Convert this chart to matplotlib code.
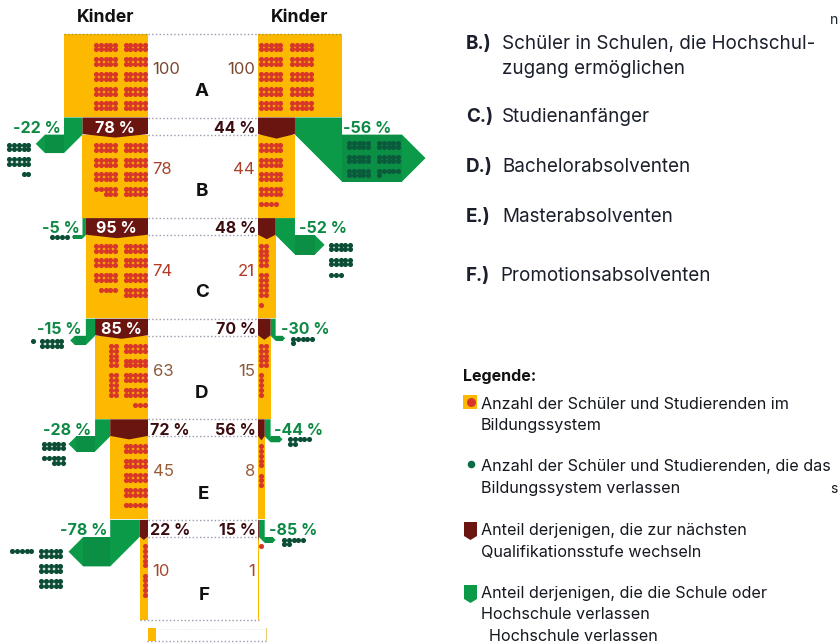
import matplotlib
matplotlib.use("Agg")
import matplotlib.pyplot as plt
from matplotlib.patches import Polygon, Rectangle

# ---------- data ----------
left_values = [100, 78, 74, 63, 45, 10]
right_values = [100, 44, 21, 15, 8, 1]
row_letters = ["A", "B", "C", "D", "E", "F"]
left_stay_pct = [78, 95, 85, 72, 22]
right_stay_pct = [44, 48, 70, 56, 15]
left_exit_pct = [22, 5, 15, 28, 78]
right_exit_pct = [56, 52, 30, 44, 85]
left_exit_count = [22, 4, 11, 18, 35]
right_exit_count = [56, 23, 6, 7, 7]
header = "Kinder"
stage_keys = ["B.)", "C.)", "D.)", "E.)", "F.)"]
stage_text = ["Schüler in Schulen, die Hochschul-\nzugang ermöglichen", "Studienanfänger",
              "Bachelorabsolventen", "Masterabsolventen", "Promotionsabsolventen"]
legend_title = "Legende:"
legend_text = [
    ["Anzahl der Schüler und Studierenden im", "Bildungssystem"],
    ["Anzahl der Schüler und Studierenden, die das", "Bildungssystem verlassen"],
    ["Anteil derjenigen, die zur nächsten", "Qualifikationsstufe wechseln"],
    ["Anteil derjenigen, die die Schule oder", "Hochschule verlassen"],
]

# ---------- layout ----------
YEL, DRED, GRN, RDOT, GDOT, DOTL = "#FDB900", "#6B1510", "#0A9A48", "#D8362A", "#0B4D35", "#9C98AC"
NUM = ["#7A4A30", "#A8432A", "#B23A26", "#8A5A3A", "#9A5A35", "#A5472E"]
PCT_G, PCT_D = "#0F8A45", "#3A0C10"
FONT = "Inter"
plt.rcParams["font.family"] = [FONT, "DejaVu Sans"]

fig = plt.figure(figsize=(8.4, 6.43), dpi=100)
ax = fig.add_axes([0, 0, 1, 1])
ax.set_xlim(0, 840)
ax.set_ylim(643, 0)
ax.axis("off")


def T(x, y, s, **kw):
    # Inter sits a little high when centred; nudge down to the reference baseline
    return ax.text(x, y + 1.7, s, va="center", **kw)


L_EDGE, R_EDGE, K, ROW0, STEP, ROW_H = 148, 258, 0.84, 34, 100.6, 83
tops = [ROW0 + STEP * i for i in range(6)]
lw = [v * K for v in left_values]
rw = [v * K for v in right_values]
ax.barh(tops, [-w for w in lw], left=L_EDGE, height=ROW_H, align="edge", color=YEL, lw=0, zorder=2)
ax.barh(tops, rw, left=R_EDGE, height=ROW_H, align="edge", color=YEL, lw=0, zorder=2)


def arrow(a, b, y0, y1, ext, s):
    w = abs(b - a)
    pts = [(a, y0), (b, y0), (b, y1), (a, y1 + w), (a + s * ext, y1 + w),
           (a + s * (ext + w / 2), y1 + w / 2), (a + s * ext, y1), (a, y1)]
    ax.add_patch(Polygon(pts, closed=True, fc=GRN, ec="none", zorder=3))
    # the straight shaft of the arrow is a slightly deeper green
    x0, x1 = sorted((a, a + s * ext))
    ax.add_patch(Rectangle((x0, y1), x1 - x0, w, fc="#0A8F45", ec="none", zorder=3.1))


def band(x0, x1, y0, y1, depth):
    xm = (x0 + x1) / 2
    ax.add_patch(Polygon([(x0, y0), (x1, y0), (x1, y1 - 0.5), (xm, y1 + depth), (x0, y1 - 0.5)],
                         closed=True, fc=DRED, ec="none", zorder=4))


left_ext = [19, 9, 11, 19, 27]
right_ext = [60, 20, 7, 9, 8]
for i in range(5):
    y0 = tops[i] + ROW_H + 0.5
    y1 = tops[i + 1]
    la, lb = L_EDGE - lw[i], L_EDGE - lw[i + 1]
    ra, rb = R_EDGE + rw[i], R_EDGE + rw[i + 1]
    arrow(la, lb, y0, y1, left_ext[i], -1)
    arrow(ra, rb, y0, y1, right_ext[i], 1)
    band(lb, L_EDGE, y0, y1, 3)
    band(R_EDGE, rb, y0, y1, 4)
    ax.plot([L_EDGE, R_EDGE], [y0, y0], ls=":", lw=1, color=DOTL, zorder=1)
    ax.plot([L_EDGE, R_EDGE], [y1, y1], ls=":", lw=1, color=DOTL, zorder=1)
ax.plot([L_EDGE, R_EDGE], [ROW0, ROW0], ls=":", lw=1, color=DOTL, zorder=1)
ax.plot([L_EDGE - 84, L_EDGE], [ROW0, ROW0], ls=":", lw=1, color="#A8962A", zorder=3)
ax.plot([R_EDGE, R_EDGE + 84], [ROW0, ROW0], ls=":", lw=1, color="#A8962A", zorder=3)
ax.plot([140, 259], [tops[5] + ROW_H] * 2, ls=":", lw=1, color=DOTL, zorder=3)

# cropped bottom strip
ax.add_patch(Rectangle((148, 628), 8, 13, fc=YEL, ec="none", zorder=2))
ax.add_patch(Rectangle((265.5, 628), 1.5, 13, fc="#E8CC70", ec="none", zorder=2))
ax.plot([147, 267], [641, 641], ls=":", lw=1, color=DOTL, zorder=1)
ax.plot([155, 265], [629, 629], ls=":", lw=0.6, color="#DDDDE2", zorder=1)


def dots(n, cols, align, color, zorder=5):
    """Lay out n pictogram dots; cols = (x0, y0, wide, rows, period, max_blocks)."""
    xs, ys = [], []
    left = n
    for x0, y0, wide, rows, period, mb in cols:
        for b in range(mb):
            for r in range(rows):
                if left <= 0:
                    break
                k = min(left, wide)
                off = wide - k if align == "r" else 0
                for c in range(k):
                    xs.append(x0 + (c + off) * DX)
                    ys.append(y0 + b * period + r * DY)
                left -= k
    ax.scatter(xs, ys, s=13.5, c=color, lw=0, zorder=zorder)


DX, DY = 4.75, 4.85
P2, P5 = 14.7, 29.5
LA, LB = 96, 125.5
RA, RB = 261.3, 292
left_dots = [
    [(LB, 44.6, 5, 2, P2, 5), (LA, 44.6, 5, 2, P2, 5)],
    [(LB, 145, 5, 2, P2, 4), (LA, 145, 5, 2, P2, 4)],
    [(LB, 245.7, 5, 2, P2, 4), (LA, 245.7, 5, 2, P2, 4)],
    [(110.9, 345.8, 2, 5, P5, 2), (LB, 345.8, 5, 2, P2, 5)],
    [(LB, 446, 5, 2, P2, 5)],
    [(145, 546, 1, 5, P5, 2)],
]
right_dots = [
    [(RA, 44.6, 5, 2, P2, 5), (RB, 44.6, 5, 2, P2, 5)],
    [(RA, 145, 5, 2, P2, 5)],
    [(RA, 245.7, 2, 5, P5, 3)],
    [(RA, 345.8, 2, 5, P5, 1), (RA, 375.3, 1, 5, P5, 1)],
    [(RA, 446, 1, 5, P5, 2)],
    [(RA, 546, 1, 5, P5, 1)],
]
for i in range(6):
    dots(left_values[i], left_dots[i], "r", RDOT)
    dots(right_values[i], right_dots[i], "l", RDOT)

left_exit_dots = [
    [(9.4, 144.5, 5, 2, 14.5, 3)],
    [(47.6, 236.6, 5, 1, 0, 1)],
    [(42.4, 341, 5, 2, 0, 1), (32.5, 340.5, 1, 1, 0, 1)],
    [(44, 443.5, 5, 2, 14.7, 2)],
    [(41.4, 551, 5, 2, 15, 3), (12.4, 550.7, 5, 1, 0, 1)],
]
right_exit_dots = [
    [(349, 142.5, 5, 2, 14, 3), (379, 142.5, 5, 2, 14, 3)],
    [(331, 244.5, 5, 2, 15, 3)],
    [(293, 338.5, 5, 2, 0, 1)],
    [(290, 439, 5, 2, 0, 1)],
    [(284, 539.5, 5, 2, 0, 1)],
]
for i in range(5):
    dots(left_exit_count[i], left_exit_dots[i], "r", GDOT)
    dots(right_exit_count[i], right_exit_dots[i], "l", "#0A5A3C" if i == 0 else GDOT)

# ---------- texts ----------
for x in (106, 300):
    T(x, 16, header, ha="center", fontsize=12.7, fontweight="bold", color="#111111")

num_y = [68, 168, 270, 370, 470, 570]
let_x = [202, 202, 202, 202, 203, 204]
let_y = [90, 190, 291, 392, 493, 594]
for i in range(6):
    T(152.5, num_y[i], str(left_values[i]), ha="left", fontsize=12, color=NUM[i], zorder=6)
    T(255, num_y[i], str(right_values[i]), ha="right", fontsize=12, color=NUM[i], zorder=6)
    T(let_x[i], let_y[i], row_letters[i], ha="center", fontsize=13.5,
      fontweight="bold", color="#111111", zorder=6)

PF = 11.5
pct_y = [127, 226.5, 327.5, 428.5, 529]
left_stay_pos = [(115, "center", "white"), (116, "center", "white"), (121, "center", "white"),
                 (150, "left", PCT_D), (150, "left", PCT_D)]
left_exit_x = [61, 80, 82, 91, 107]
right_exit_x = [343, 299, 281, 274, 269]
for i in range(5):
    x, ha, c = left_stay_pos[i]
    T(x, pct_y[i], f"{left_stay_pct[i]} %", ha=ha, fontsize=PF, fontweight="bold", color=c, zorder=7)
    T(256, pct_y[i], f"{right_stay_pct[i]} %", ha="right", fontsize=PF, fontweight="bold", color=PCT_D, zorder=7)
    T(left_exit_x[i], pct_y[i], f"-{left_exit_pct[i]} %", ha="right", fontsize=PF, fontweight="bold", color=PCT_G, zorder=7)
    T(right_exit_x[i], pct_y[i], f"-{right_exit_pct[i]} %", ha="left", fontsize=PF, fontweight="bold", color=PCT_G, zorder=7)

stage_y = [42, 115, 165, 215, 274]
stage_tx = [502, 502, 502, 502, 500]
TF = 13.55
for i in range(5):
    T(466, stage_y[i], stage_keys[i], ha="left", fontsize=TF, fontweight="bold", color="#1A1F2B")
    for j, line in enumerate(stage_text[i].split("\n")):
        T(stage_tx[i], stage_y[i] + j * 25, line, ha="left", fontsize=TF, color="#1A1F2B")

T(463, 375, legend_title, ha="left", fontsize=11.5, fontweight="bold", color="#111111")
leg_y = [(403, 424), (465, 487), (529, 551), (592, 613)]
LF = 11.65
for lines, ys in zip(legend_text, leg_y):
    for line, y in zip(lines, ys):
        T(481, y, line, ha="left", fontsize=LF, color="#15181F")
T(489, 635, legend_text[3][1], ha="left", fontsize=LF, color="#15181F")

# legend keys
ax.add_patch(Rectangle((463, 395), 14, 14, fc=YEL, ec="none"))
ax.scatter([471], [402], s=42, c=RDOT, lw=0, zorder=3)
ax.scatter([471], [464], s=30, c="#0B6B45", lw=0, zorder=3)
for yk, col in ((522, DRED), (585, GRN)):
    ax.add_patch(Polygon([(464, yk), (477, yk), (477, yk + 14), (470.5, yk + 18), (464, yk + 14)],
                         closed=True, fc=col, ec="none"))

# stray letters at the scan's right margin
T(830, 18, "n", ha="left", fontsize=10, color="#1A1F2B")
T(830, 487, "s", ha="left", fontsize=10, color="#15181F")

fig.savefig("out.png", dpi=100)
